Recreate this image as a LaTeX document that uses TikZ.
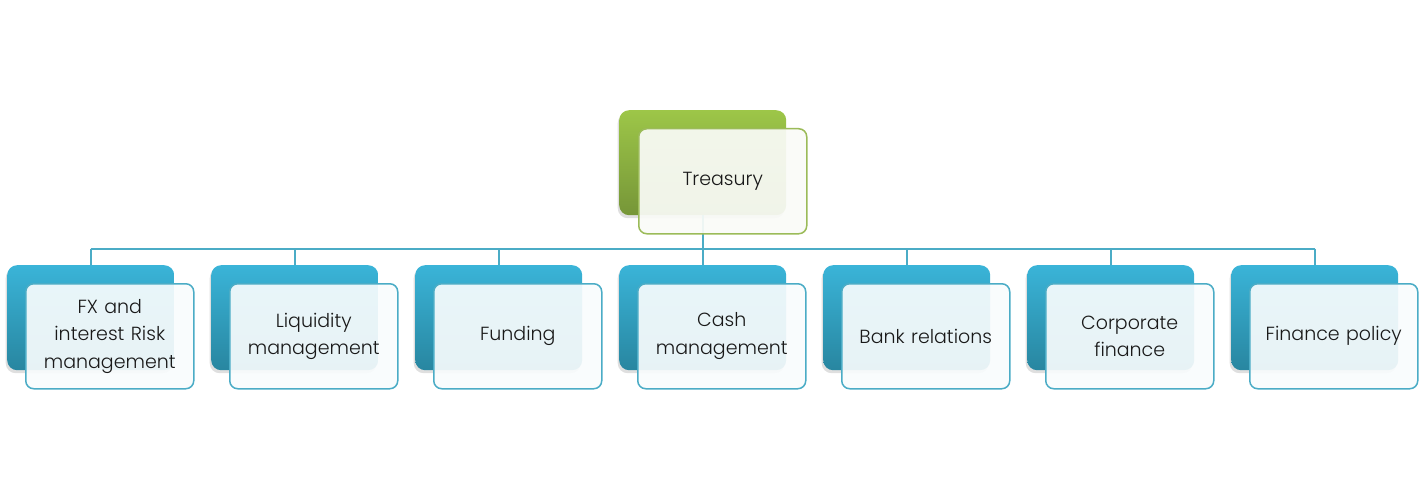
\documentclass[tikz,border=0pt]{standalone}
\usepackage{fontspec}
\setmainfont{Poppins Light}
\usetikzlibrary{shadows}
\definecolor{bluetop}{RGB}{58,180,216}
\definecolor{bluebot}{RGB}{40,134,160}
\definecolor{greentop}{RGB}{157,198,72}
\definecolor{greenbot}{RGB}{118,150,56}
\definecolor{blueline}{RGB}{75,172,198}
\definecolor{greenline}{RGB}{155,187,89}
\definecolor{bluefront}{RGB}{248,252,253}
\definecolor{greenfront}{RGB}{250,251,247}
\definecolor{txt}{RGB}{25,25,25}
\tikzset{
  backbox/.style={anchor=north west, rounded corners=10pt, minimum width=167pt, minimum height=105pt, inner sep=0pt,
    drop shadow={opacity=0.25, shadow xshift=-1.5pt, shadow yshift=-3pt}},
  backblue/.style={backbox, top color=bluetop, bottom color=bluebot},
  backgreen/.style={backbox, top color=greentop, bottom color=greenbot},
  frontbox/.style={anchor=north west, rounded corners=8pt, minimum width=168pt, minimum height=105pt, inner sep=2pt,
    line width=1.5pt, align=center, text=txt, font=\fontsize{19}{27.5}\selectfont, text width=160pt},
  frontblue/.style={frontbox, draw=blueline, fill=bluefront, fill opacity=0.92, text opacity=1},
  frontgreen/.style={frontbox, draw=greenline, fill=greenfront, fill opacity=0.93, text opacity=1},
  conn/.style={draw=blueline, line width=2pt}
}
\begin{document}
\begin{tikzpicture}[x=1pt,y=-1pt]
\useasboundingbox (0,0) rectangle (1419,500);
% child back boxes
\node[backblue] (b1) at (7,265) {};
\node[backblue] (b2) at (211,265) {};
\node[backblue] (b3) at (415,265) {};
\node[backblue] (b4) at (619,265) {};
\node[backblue] (b5) at (823,265) {};
\node[backblue] (b6) at (1027,265) {};
\node[backblue] (b7) at (1231,265) {};
% root back box
\node[backgreen] (root) at (619,110) {};
% connectors
\coordinate (hy) at (0,248.5);
\draw[conn] (root.south) -- (root.south |- hy);
\draw[conn] (b1.north |- hy) -- (b7.north |- hy);
\foreach \i in {1,...,7} {\draw[conn] (b\i.north |- hy) -- (b\i.north);}
% front boxes
\node[frontgreen] (rootf) at (638,128) {Treasury};
\node[frontblue] (f1) at (25,283) {FX and\\interest Risk\\management};
\node[frontblue] (f2) at (229,283) {Liquidity\\management};
\node[frontblue] (f3) at (433,283) {Funding};
\node[frontblue] (f4) at (637,283) {Cash\\management};
\node[frontblue] (f5) at (841,283) {Bank relations};
\node[frontblue] (f6) at (1045,283) {Corporate\\finance};
\node[frontblue] (f7) at (1249,283) {Finance policy};
\end{tikzpicture}
\end{document}
